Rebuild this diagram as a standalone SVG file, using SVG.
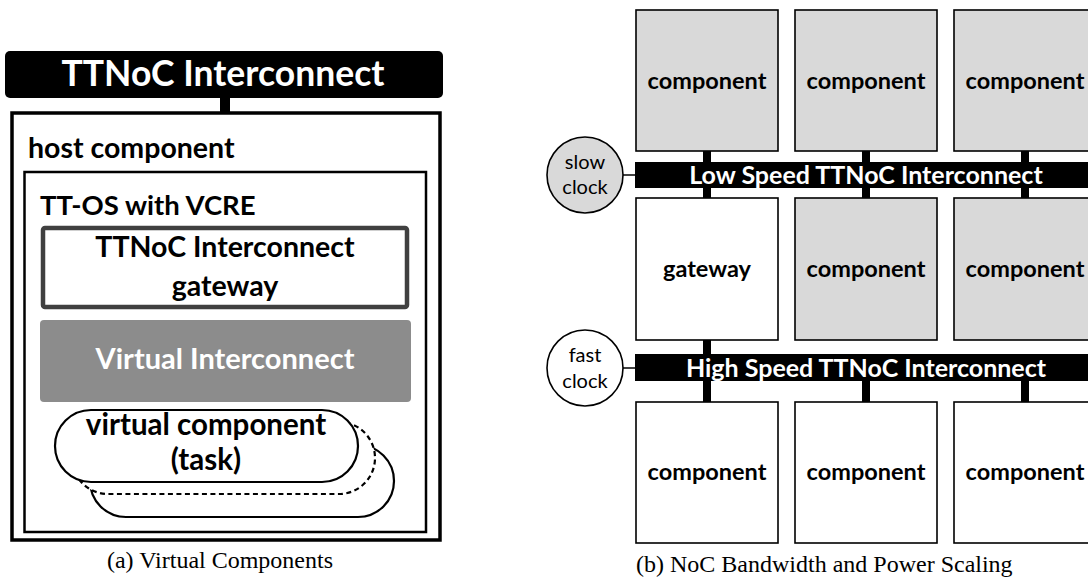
<svg xmlns="http://www.w3.org/2000/svg" width="1088" height="584" viewBox="0 0 1088 584">
<style>
.b{font-family:Lato,"Liberation Sans",sans-serif;font-weight:bold;fill:#000}
.w{font-family:Lato,"Liberation Sans",sans-serif;font-weight:bold;fill:#fff}
.r{font-family:Lato,"Liberation Sans",sans-serif;font-size:20px;fill:#000}
.cap{font-family:"Liberation Serif",serif;font-size:24px;fill:#000}
.box{stroke:#000;stroke-width:1.6}
.g{fill:#d9d9d9}
.wh{fill:#fff}
.stub{fill:#000}
.pill{fill:#fff;stroke:#000;stroke-width:2.2}
</style>
<rect width="1088" height="584" fill="#fff"/>

<!-- Left panel -->
<g id="ttnoc-top">
<rect x="5" y="51" width="438" height="47" rx="5" fill="#000"/>
<text class="w" x="223" y="86" font-size="35.5" text-anchor="middle">TTNoC Interconnect</text>
</g>
<g id="host">
<rect x="12" y="113" width="428" height="427" fill="#fff" stroke="#000" stroke-width="3.5"/>
<text class="b" x="28" y="158" font-size="28.5">host component</text>
</g>
<g id="ttos">
<rect x="24.5" y="172" width="401.5" height="360" fill="#fff" stroke="#000" stroke-width="2.5"/>
<text class="b" x="40" y="215" font-size="27.5">TT-OS with VCRE</text>
</g>
<g id="gateway-l">
<rect x="43" y="228" width="364" height="79" rx="2" fill="#fff" stroke="#404040" stroke-width="4.5"/>
<text class="b" x="225" y="257" font-size="28.5" text-anchor="middle">TTNoC Interconnect</text>
<text class="b" x="225" y="296" font-size="28.5" text-anchor="middle">gateway</text>
</g>
<g id="virtual-interconnect">
<rect x="40" y="320" width="371" height="82" rx="4" fill="#8c8c8c"/>
<text class="w" x="225" y="369" font-size="29" text-anchor="middle">Virtual Interconnect</text>
</g>
<g id="virtual-component">
<rect class="pill" x="90" y="445" width="304" height="72" rx="36"/>
<rect class="pill" x="72" y="422" width="303" height="72" rx="36" stroke-dasharray="5 3.5"/>
<rect class="pill" x="55" y="410" width="303" height="72" rx="36"/>
<text class="b" x="206" y="435" font-size="29.5" text-anchor="middle">virtual component</text>
<text class="b" x="206" y="470" font-size="29.5" text-anchor="middle">(task)</text>
</g>
<text class="cap" x="220" y="568" text-anchor="middle" font-size="24.5">(a) Virtual Components</text>

<!-- Right panel -->
<g id="connectors">
<rect class="stub" x="220" y="97" width="10" height="16"/>
<rect class="stub" x="703" y="150" width="8" height="13"/>
<rect class="stub" x="862" y="150" width="8" height="13"/>
<rect class="stub" x="1021" y="150" width="8" height="13"/>
<rect class="stub" x="703" y="187" width="8" height="12"/>
<rect class="stub" x="862" y="187" width="8" height="12"/>
<rect class="stub" x="1021" y="187" width="8" height="12"/>
<rect class="stub" x="703" y="339" width="8" height="16"/>
<rect class="stub" x="703" y="380" width="8" height="23"/>
<rect class="stub" x="862" y="380" width="8" height="23"/>
<rect class="stub" x="1021" y="380" width="8" height="23"/>
<line x1="623" y1="175" x2="636" y2="175" stroke="#000" stroke-width="1.5"/>
<line x1="623" y1="368" x2="636" y2="368" stroke="#000" stroke-width="1.5"/>
</g>

<g id="c11"><rect class="box g" x="636" y="10" width="142" height="141"/><text class="b" x="707" y="89" font-size="23.5" text-anchor="middle">component</text></g>
<g id="c12"><rect class="box g" x="795" y="10" width="142" height="141"/><text class="b" x="866" y="89" font-size="23.5" text-anchor="middle">component</text></g>
<g id="c13"><rect class="box g" x="954" y="10" width="142" height="141"/><text class="b" x="1025" y="89" font-size="23.5" text-anchor="middle">component</text></g>

<g id="slow-bus"><rect x="635" y="162" width="460" height="26" fill="#000"/><text class="w" x="866" y="184" font-size="25" text-anchor="middle">Low Speed TTNoC Interconnect</text></g>
<g id="slow-clock"><circle cx="585" cy="175" r="38" fill="#d9d9d9" stroke="#000" stroke-width="1.6"/><text class="r" x="585" y="169" text-anchor="middle">slow</text><text class="r" x="585" y="194" text-anchor="middle">clock</text></g>

<g id="gateway-r"><rect class="box wh" x="636" y="198" width="142" height="142"/><text class="b" x="707" y="277" font-size="23.5" text-anchor="middle">gateway</text></g>
<g id="c22"><rect class="box g" x="795" y="198" width="142" height="142"/><text class="b" x="866" y="277" font-size="23.5" text-anchor="middle">component</text></g>
<g id="c23"><rect class="box g" x="954" y="198" width="142" height="142"/><text class="b" x="1025" y="277" font-size="23.5" text-anchor="middle">component</text></g>

<g id="fast-bus"><rect x="635" y="354" width="460" height="27" fill="#000"/><text class="w" x="866" y="377" font-size="25" text-anchor="middle">High Speed TTNoC Interconnect</text></g>
<g id="fast-clock"><circle cx="585" cy="368" r="38" fill="#fff" stroke="#000" stroke-width="1.6"/><text class="r" x="585" y="362" text-anchor="middle">fast</text><text class="r" x="585" y="388" text-anchor="middle">clock</text></g>

<g id="c31"><rect class="box wh" x="636" y="402" width="142" height="141"/><text class="b" x="707" y="480" font-size="23.5" text-anchor="middle">component</text></g>
<g id="c32"><rect class="box wh" x="795" y="402" width="142" height="141"/><text class="b" x="866" y="480" font-size="23.5" text-anchor="middle">component</text></g>
<g id="c33"><rect class="box wh" x="954" y="402" width="142" height="141"/><text class="b" x="1025" y="480" font-size="23.5" text-anchor="middle">component</text></g>

<text class="cap" x="636" y="572">(b) NoC Bandwidth and Power Scaling</text>
</svg>
